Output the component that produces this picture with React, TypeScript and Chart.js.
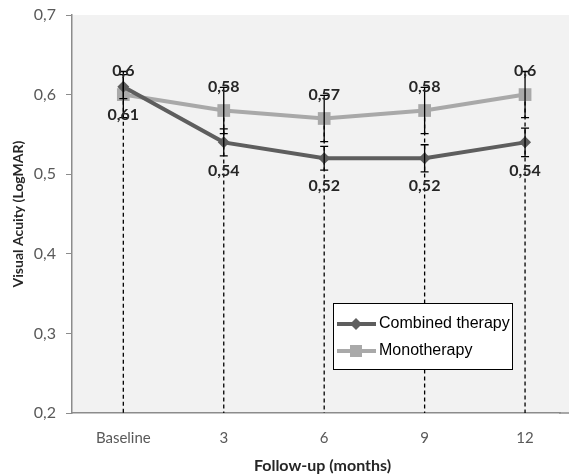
import React, { useEffect, useRef } from "react";
import { Chart, registerables } from "chart.js";

Chart.register(...registerables);

const categories = ["Baseline", "3", "6", "9", "12"];
const combinedValues = [0.61, 0.54, 0.52, 0.52, 0.54];
const combinedErrors = [0.015, 0.017, 0.015, 0.017, 0.018];
const monoValues = [0.6, 0.58, 0.57, 0.58, 0.6];
const monoErrors = [0.029, 0.029, 0.029, 0.029, 0.029];
const yTicks = [0.2, 0.3, 0.4, 0.5, 0.6, 0.7];
const seriesNames = ["Combined therapy", "Monotherapy"];
const xTitle = "Follow-up (months)";
const yTitle = "Visual Acuity (LogMAR)";

const COMBINED = "#5e5e5e";
const MONO = "#a9a9a9";
const FONT = "Lato, 'Open Sans', sans-serif";

const fmt = (v: number) => String(v).replace(".", ",");

const bgPlugin = {
  id: "bgPlugin",
  beforeDraw(chart: any) {
    const { ctx, chartArea } = chart;
    ctx.save();
    ctx.fillStyle = "#ffffff";
    ctx.fillRect(0, 0, chart.width, chart.height);
    ctx.fillStyle = "#f2f2f2";
    ctx.fillRect(chartArea.left, chartArea.top, chart.width - chartArea.left, chartArea.bottom - chartArea.top);
    ctx.restore();
  },
};

const dropLines = {
  id: "dropLines",
  beforeDatasetsDraw(chart: any) {
    const { ctx, chartArea, scales } = chart;
    const ys = scales.y;
    ctx.save();
    ctx.strokeStyle = "#000";
    ctx.lineWidth = 1.3;
    ctx.setLineDash([4, 3]);
    categories.forEach((_, i) => {
      const x = chart.getDatasetMeta(0).data[i].x;
      const top = ys.getPixelForValue(Math.max(combinedValues[i], monoValues[i]));
      ctx.beginPath();
      ctx.moveTo(x, top);
      ctx.lineTo(x, chartArea.bottom);
      ctx.stroke();
    });
    ctx.restore();
  },
};

const errorAndLabels = {
  id: "errorAndLabels",
  afterDatasetsDraw(chart: any) {
    const { ctx, scales } = chart;
    const ys = scales.y;
    const errs = [combinedErrors, monoErrors];
    const vals = [combinedValues, monoValues];
    ctx.save();
    ctx.strokeStyle = "#000";
    ctx.lineWidth = 1.3;
    for (let d = 0; d < 2; d++) {
      const meta = chart.getDatasetMeta(d);
      meta.data.forEach((pt: any, i: number) => {
        const x = pt.x;
        const yTop = ys.getPixelForValue(vals[d][i] + errs[d][i]);
        const yBot = ys.getPixelForValue(vals[d][i] - errs[d][i]);
        ctx.beginPath();
        ctx.moveTo(x, yTop);
        ctx.lineTo(x, yBot);
        ctx.moveTo(x - 4, yTop);
        ctx.lineTo(x + 4, yTop);
        ctx.moveTo(x - 4, yBot);
        ctx.lineTo(x + 4, yBot);
        ctx.stroke();
      });
    }
    ctx.font = "bold 16px " + FONT;
    ctx.fillStyle = "#262626";
    ctx.textAlign = "center";
    ctx.textBaseline = "middle";
    for (let d = 0; d < 2; d++) {
      const meta = chart.getDatasetMeta(d);
      meta.data.forEach((pt: any, i: number) => {
        const off = d === 0 ? 28 : -24;
        ctx.fillText(fmt(vals[d][i]), pt.x, pt.y + off);
      });
    }
    ctx.restore();
  },
  afterDraw(chart: any) {
    const { ctx, chartArea } = chart;
    ctx.save();
    ctx.strokeStyle = "#8c8c8c";
    ctx.lineWidth = 1.5;
    ctx.beginPath();
    ctx.moveTo(chartArea.right - 1, chartArea.bottom);
    ctx.lineTo(chart.width, chartArea.bottom);
    ctx.stroke();

    // x axis title, centred on the visible plot band
    ctx.fillStyle = "#262626";
    ctx.font = "bold 16px " + FONT;
    ctx.textAlign = "center";
    ctx.textBaseline = "middle";
    ctx.fillText(xTitle, (chartArea.left + chart.width) / 2 + 2, chartArea.bottom + 53);

    const bx = 333, by = 303, bw = 179, bh = 66;
    ctx.fillStyle = "#ffffff";
    ctx.fillRect(bx, by, bw, bh);
    ctx.strokeStyle = "#000";
    ctx.lineWidth = 1;
    ctx.strokeRect(bx + 0.5, by + 0.5, bw, bh);
    const rows = [by + 21, by + 48];
    chart.data.datasets.forEach((ds: any, i: number) => {
      const y = rows[i];
      ctx.strokeStyle = ds.borderColor;
      ctx.lineWidth = 4;
      ctx.beginPath();
      ctx.moveTo(bx + 4, y);
      ctx.lineTo(bx + 43, y);
      ctx.stroke();
      ctx.fillStyle = ds.borderColor;
      const cx = bx + 23;
      if (i === 0) {
        ctx.beginPath();
        ctx.moveTo(cx, y - 6);
        ctx.lineTo(cx + 6, y);
        ctx.lineTo(cx, y + 6);
        ctx.lineTo(cx - 6, y);
        ctx.closePath();
        ctx.fill();
      } else {
        ctx.fillRect(cx - 6, y - 6, 12, 12);
      }
      ctx.fillStyle = "#000";
      ctx.font = "16px 'Liberation Sans', Arial, sans-serif";
      ctx.textAlign = "left";
      ctx.textBaseline = "middle";
      ctx.fillText(ds.label, bx + 46, y);
    });
    ctx.restore();
  },
};

export default function App() {
  const ref = useRef<HTMLCanvasElement>(null);
  useEffect(() => {
    if (!ref.current) return;
    const chart = new Chart(ref.current, {
      type: "line",
      data: {
        datasets: [
          {
            label: seriesNames[0],
            data: combinedValues.map((v, i) => ({ x: i, y: v })),
            borderColor: COMBINED,
            backgroundColor: COMBINED,
            borderWidth: 4,
            pointStyle: "rectRot",
            pointRadius: 6,
            pointBorderWidth: 0,
            tension: 0,
          },
          {
            label: seriesNames[1],
            data: monoValues.map((v, i) => ({ x: i, y: v })),
            borderColor: MONO,
            backgroundColor: MONO,
            borderWidth: 4,
            pointStyle: "rect",
            pointRadius: 9,
            pointBorderWidth: 0,
            tension: 0,
          },
        ],
      },
      options: {
        animation: false,
        responsive: true,
        maintainAspectRatio: false,
        layout: { padding: { top: 15, right: 0, left: 0, bottom: 0 } },
        plugins: { legend: { display: false }, tooltip: { enabled: false } },
        scales: {
          x: {
            type: "linear",
            min: -0.511,
            max: 4.348,
            afterBuildTicks: (s: any) => {
              s.ticks = categories.map((_, i) => ({ value: i }));
            },
            afterFit: (s: any) => {
              s.height = 63;
              s.paddingLeft = 0;
              s.paddingRight = 0;
            },
            grid: { drawOnChartArea: false, drawTicks: false },
            border: { color: "#8c8c8c", width: 1.5 },
            ticks: {
              autoSkip: false,
              maxRotation: 0,
              padding: 16,
              color: "#595959",
              font: { family: FONT, size: 15 },
              callback: (v: any) => categories[v] ?? "",
            },
            title: { display: false },
          },
          y: {
            min: 0.2,
            max: 0.7,
            afterBuildTicks: (s: any) => {
              s.ticks = yTicks.map((v) => ({ value: v }));
            },
            afterFit: (s: any) => {
              s.width = 72;
              s.paddingTop = 0;
              s.paddingBottom = 0;
            },
            grid: { drawOnChartArea: false, drawTicks: true, tickLength: 6, color: "#8c8c8c" },
            border: { color: "#8c8c8c", width: 1.5 },
            ticks: {
              padding: 10,
              color: "#595959",
              font: { family: FONT, size: 16 },
              callback: (v: any) => fmt(Math.round(v * 10) / 10),
            },
            title: {
              display: true,
              text: yTitle,
              color: "#262626",
              font: { family: FONT, size: 14, weight: "bold" },
              padding: { top: 10, bottom: 0 },
            },
          },
        },
      },
      plugins: [bgPlugin, dropLines, errorAndLabels],
    } as any);
    return () => chart.destroy();
  }, []);
  return (
    <div style={{ position: "fixed", left: 0, top: 0, width: 569, height: 476 }}>
      <canvas ref={ref} />
    </div>
  );
}
